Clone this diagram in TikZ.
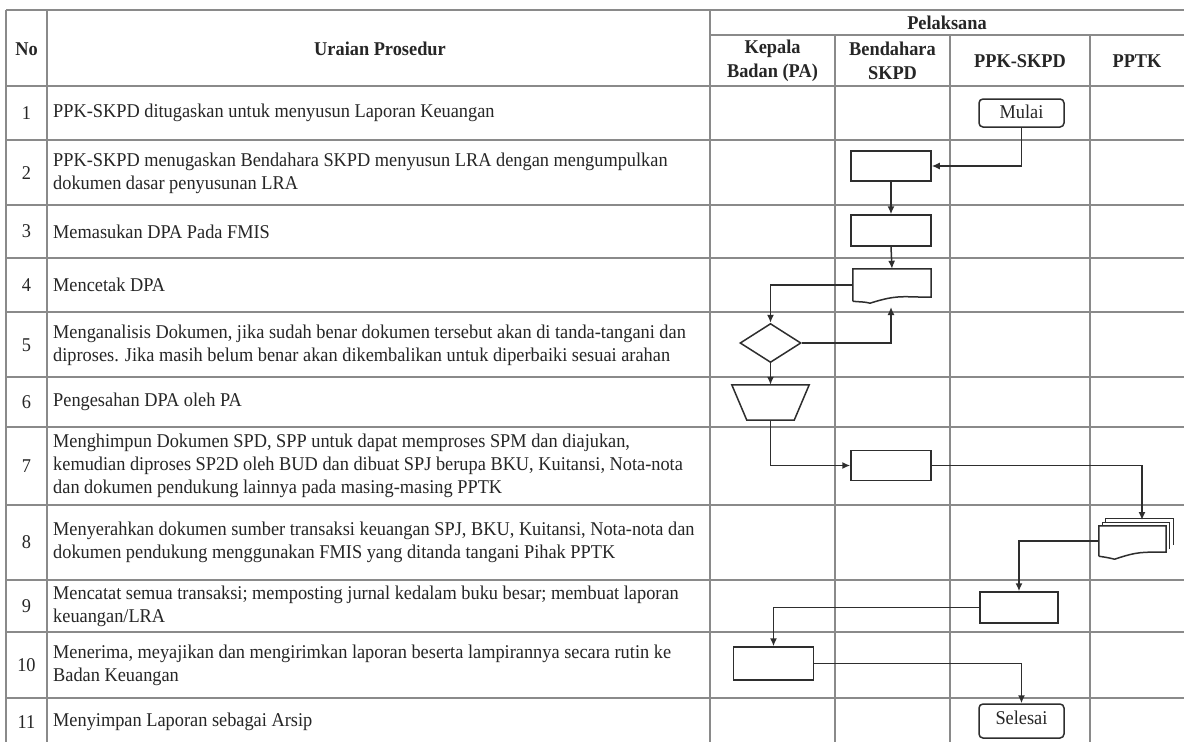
\documentclass[tikz,border=0pt]{standalone}
\usepackage{fontspec}
\setmainfont{Liberation Serif}[FakeStretch=0.94]
\usetikzlibrary{arrows.meta,shapes.geometric,calc}
\definecolor{txtc}{HTML}{262626}
\definecolor{gridc}{HTML}{8A8A8A}
\definecolor{flowc}{HTML}{2E2E2E}
\tikzset{
  grid/.style={draw=gridc, line width=1.1pt},
  flow/.style={draw=flowc, line width=1.5pt},
  arr/.style={flow, -{Latex[length=8pt,width=7pt]}},
  body/.style={font=\fontsize{19.5}{23}\selectfont, text=txtc, inner sep=0pt},
  rowtxt/.style={body, anchor=west, align=left},
  numtxt/.style={body, anchor=center},
  hdr/.style={font=\bfseries\fontsize{19.5}{24}\selectfont, text=txtc, align=center, inner sep=0pt},
  procbox/.style={flow, rectangle, minimum width=80pt, minimum height=30pt, inner sep=0pt},
  termbox/.style={flow, rectangle, rounded corners=4pt, minimum width=85pt, minimum height=28pt, inner sep=0pt, body},
  helper/.style={rectangle, inner sep=0pt}
}
\begin{document}
\begin{tikzpicture}[x=1pt,y=-1pt]
\useasboundingbox (0,0) rectangle (1184,742);
\fill[white] (0,0) rectangle (1184,742);
% table grid
\draw[grid] (6,10) -- (1184,10);
\draw[grid] (710,35) -- (1184,35);
\foreach \yy in {86,140,205,258,312,377,427,505,580,632,698}
  \draw[grid] (6,\yy) -- (1184,\yy);
\foreach \xx in {6,47,710}
  \draw[grid] (\xx,10) -- (\xx,742);
\foreach \xx in {835,950,1090}
  \draw[grid] (\xx,35) -- (\xx,742);
% headers
\node[hdr] (hno) at (26.5,49) {No};
\node[hdr] (hur) at (380,49) {Uraian Prosedur};
\node[hdr] (hpel) at (947,23) {Pelaksana};
\node[hdr] (hka) at (772.5,61) {Kepala\\Badan (PA)};
\node[hdr] (hbe) at (892.5,61) {Bendahara\\SKPD};
\node[hdr] (hppk) at (1020,61) {PPK-SKPD};
\node[hdr] (hpptk) at (1137,61) {PPTK};
% row numbers
\node[numtxt] (n1) at (26.5,113) {1};
\node[numtxt] (n2) at (26.5,173) {2};
\node[numtxt] (n3) at (26.5,231.5) {3};
\node[numtxt] (n4) at (26.5,285) {4};
\node[numtxt] (n5) at (26.5,345) {5};
\node[numtxt] (n6) at (26.5,402) {6};
\node[numtxt] (n7) at (26.5,466) {7};
\node[numtxt] (n8) at (26.5,542.5) {8};
\node[numtxt] (n9) at (26.5,606) {9};
\node[numtxt] (n10) at (26.5,665) {10};
\node[numtxt] (n11) at (26.5,722) {11};
% row texts
\node[rowtxt] (t1) at (53,113) {PPK-SKPD ditugaskan untuk menyusun Laporan Keuangan};
\node[rowtxt] (t2) at (53,173) {PPK-SKPD menugaskan Bendahara SKPD menyusun LRA dengan mengumpulkan\\dokumen dasar penyusunan LRA};
\node[rowtxt] (t3) at (53,231.5) {Memasukan DPA Pada FMIS};
\node[rowtxt] (t4) at (53,285) {Mencetak DPA};
\node[rowtxt] (t5) at (53,345) {Menganalisis Dokumen, jika sudah benar dokumen tersebut akan di tanda-tangani dan\\diproses. Jika masih belum benar akan dikembalikan untuk diperbaiki sesuai arahan};
\node[rowtxt] (t6) at (53,402) {Pengesahan DPA oleh PA};
\node[rowtxt] (t7) at (53,466) {Menghimpun Dokumen SPD, SPP untuk dapat memproses SPM dan diajukan,\\kemudian diproses SP2D oleh BUD dan dibuat SPJ berupa BKU, Kuitansi, Nota-nota\\dan dokumen pendukung lainnya pada masing-masing PPTK};
\node[rowtxt] (t8) at (53,542.5) {Menyerahkan dokumen sumber transaksi keuangan SPJ, BKU, Kuitansi, Nota-nota dan\\dokumen pendukung menggunakan FMIS yang ditanda tangani Pihak PPTK};
\node[rowtxt] (t9) at (53,606) {Mencatat semua transaksi; memposting jurnal kedalam buku besar; membuat laporan\\keuangan/LRA};
\node[rowtxt] (t10) at (53,665) {Menerima, meyajikan dan mengirimkan laporan beserta lampirannya secara rutin ke\\Badan Keuangan};
\node[rowtxt] (t11) at (53,722) {Menyimpan Laporan sebagai Arsip};
% flowchart shapes
\node[termbox] (mulai) at (1021.5,113) {\raisebox{3pt}{Mulai}};
\node[procbox] (b2) at (891,166) {};
\node[procbox, minimum height=31pt] (b3) at (891,230.5) {};
\node[helper, minimum width=78pt, minimum height=32pt] (d4) at (892,285) {};
\draw[flow] (d4.south west) -- (d4.north west) -- (d4.north east) -- ($(d4.south east)+(0,-4)$)
  .. controls +(-28,0) and +(28,-9) .. ($(d4.south)+(-22,2)$)
  .. controls +(-8,-2) and +(6,1) .. (d4.south west);
\coordinate (d4in) at (891,307);
\node[flow, diamond, aspect=1.56, minimum width=61pt, minimum height=39pt, inner sep=0pt] (dia) at (770.5,343) {};
\node[helper, minimum width=77pt, minimum height=35pt] (trap) at (770.5,402.5) {};
\draw[flow] (trap.north west) -- (trap.north east) -- ($(trap.south east)+(-15,0)$) -- ($(trap.south west)+(15,0)$) -- cycle;
\node[procbox] (b7) at (891,465.5) {};
% multi-document
\node[helper, minimum width=67pt, minimum height=30pt] (md) at (1132.5,541) {};
\foreach \o in {7,3.5} {
  \draw[flow, fill=white, line width=1.2pt] ($(md.south west)+(\o,-\o)$) -- ($(md.north west)+(\o,-\o)$) -- ($(md.north east)+(\o,-\o)$) -- ($(md.south east)+(\o,-\o-4)$);
}
\draw[flow, fill=white] (md.south west) -- (md.north west) -- (md.north east) -- ($(md.south east)+(0,-4)$)
  .. controls +(-24,0) and +(24,-8) .. ($(md.south)+(-18,3)$)
  .. controls +(-8,-2) and +(6,1) .. (md.south west);
\coordinate (mdtop) at (1142,520);
\node[procbox, minimum width=78pt, minimum height=31pt] (b9) at (1019,607.5) {};
\node[procbox, minimum height=33pt] (b10) at (773.5,663.5) {};
\node[termbox, minimum height=34pt] (sel) at (1021.5,721) {\raisebox{6pt}{Selesai}};
% connectors
\draw[arr] (mulai.south) |- (b2.east);
\draw[arr] (b2.south) -- (b3.north);
\draw[arr] (b3.south) -- (d4.north);
\draw[arr] (d4.west) -| (dia.north);
\draw[arr] (dia.east) -| (d4in);
\draw[arr] (dia.south) -- (trap.north);
\draw[arr] (trap.south) |- (b7.west);
\draw[arr] (b7.east) -| (mdtop);
\draw[arr] (md.west) -| (b9.north);
\draw[arr] (b9.west) -| (b10.north);
\draw[arr] (b10.east) -| (sel.north);
\end{tikzpicture}
\end{document}
